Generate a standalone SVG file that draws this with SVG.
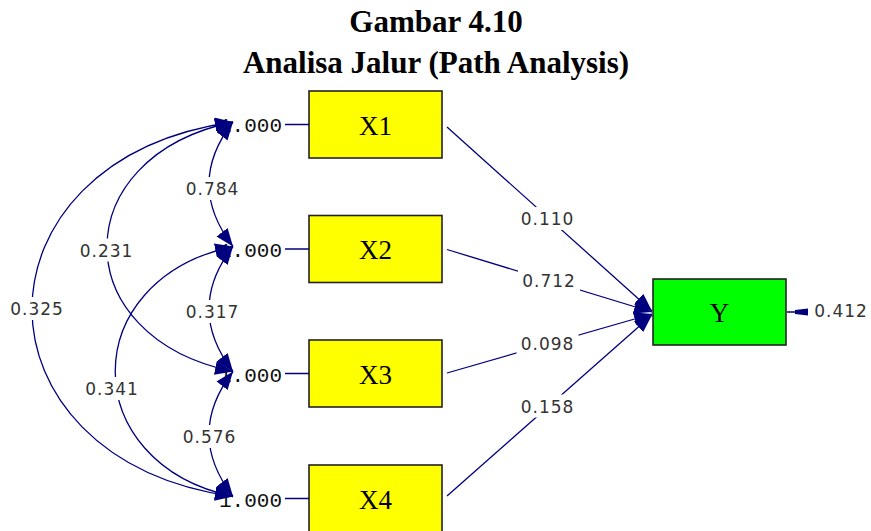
<svg xmlns="http://www.w3.org/2000/svg" width="871" height="531" viewBox="0 0 871 531">
<style>
.title{font-family:"Liberation Serif",serif;font-weight:bold;font-size:31px;fill:#000;text-anchor:middle}
.box{stroke:#222;stroke-width:1.6}
.xbox{fill:#ffff00}
.ybox{fill:#00ff00}
.vname{font-family:"Liberation Serif",serif;font-size:27px;fill:#000;text-anchor:middle}
.var{font-family:"Liberation Mono",monospace;font-size:21px;fill:#111}
.vline{stroke:#00007f;stroke-width:1.5}
.conn{fill:none;stroke:#00007f;stroke-width:1.3}
.num{font-family:"DejaVu Sans",sans-serif;font-size:17px;letter-spacing:1px;fill:#333;text-anchor:middle}
.bg{fill:#fff}
</style>
<defs>
<marker id="ah" markerUnits="userSpaceOnUse" markerWidth="18" markerHeight="14" refX="18" refY="7" orient="auto">
<path d="M0,0 L18,7 L0,14 z" fill="#00007f"/>
</marker>
<marker id="ahs" markerUnits="userSpaceOnUse" markerWidth="18" markerHeight="14" refX="18" refY="7" orient="auto-start-reverse">
<path d="M0,0 L18,7 L0,14 z" fill="#00007f"/>
</marker>
</defs>
<rect width="871" height="531" fill="#fff"/>
<g id="title">
<text class="title" x="436" y="32">Gambar 4.10</text>
<text class="title" x="436" y="73">Analisa Jalur (Path Analysis)</text>
</g>
<g id="X1">
<rect class="box xbox" x="309" y="91" width="133" height="67"/>
<text class="vname" x="375.5" y="134.5">X1</text>
<text class="var" x="219" y="132">1.000</text>
<line class="vline" x1="285" y1="124.5" x2="309" y2="124.5"/>
</g>
<g id="X2">
<rect class="box xbox" x="309" y="215.5" width="133" height="67"/>
<text class="vname" x="375.5" y="259">X2</text>
<text class="var" x="219" y="257">1.000</text>
<line class="vline" x1="285" y1="249" x2="309" y2="249"/>
</g>
<g id="X3">
<rect class="box xbox" x="309" y="340" width="133" height="67"/>
<text class="vname" x="375.5" y="383.5">X3</text>
<text class="var" x="219" y="382">1.000</text>
<line class="vline" x1="285" y1="373.5" x2="309" y2="373.5"/>
</g>
<g id="X4">
<rect class="box xbox" x="309" y="465" width="133" height="67"/>
<text class="vname" x="375.5" y="508.5">X4</text>
<text class="var" x="219" y="507">1.000</text>
<line class="vline" x1="285" y1="498.5" x2="309" y2="498.5"/>
</g>
<g id="Y">
<rect class="box ybox" x="653" y="279" width="133" height="66"/>
<text class="vname" x="719.5" y="321.5">Y</text>
<line class="vline" x1="787" y1="312" x2="797" y2="312"/>
<polygon points="795,310 808,308.5 808,315.5 795,314" fill="#00007f"/>
<text class="num" x="841" y="316.5">0.412</text>
</g>
<g id="connectors">
<path class="conn" marker-start="url(#ahs)" marker-end="url(#ah)" d="M233,122 Q185,184 233,246.5"/>
<path class="conn" marker-start="url(#ahs)" marker-end="url(#ah)" d="M233,246.5 Q185,309 233,371.5"/>
<path class="conn" marker-start="url(#ahs)" marker-end="url(#ah)" d="M233,371.5 Q185,434 233,496.5"/>
<path class="conn" marker-start="url(#ahs)" marker-end="url(#ah)" d="M233,122 C65,157 65,337 233,371.5"/>
<path class="conn" marker-start="url(#ahs)" marker-end="url(#ah)" d="M233,246.5 C76,280 76,463 233,496.5"/>
<path class="conn" marker-start="url(#ahs)" marker-end="url(#ah)" d="M233,122 C-35,160 -35,458 233,496.5"/>
<path class="conn" marker-end="url(#ah)" d="M447,127 L652,311"/>
<path class="conn" marker-end="url(#ah)" d="M447,249.5 L652,312"/>
<path class="conn" marker-end="url(#ah)" d="M447,373 L652,314"/>
<path class="conn" marker-end="url(#ah)" d="M447,496 L652,315"/>
</g>
<g id="labels">
<rect class="bg" x="181.5" y="177" width="62" height="23"/><text class="num" x="212.5" y="195">0.784</text>
<rect class="bg" x="75.5" y="238.5" width="62" height="23"/><text class="num" x="106.5" y="256.5">0.231</text>
<rect class="bg" x="6" y="297" width="62" height="23"/><text class="num" x="37" y="315">0.325</text>
<rect class="bg" x="181.5" y="300" width="62" height="23"/><text class="num" x="212.5" y="318">0.317</text>
<rect class="bg" x="81" y="377" width="62" height="23"/><text class="num" x="112" y="395">0.341</text>
<rect class="bg" x="178.5" y="425" width="62" height="23"/><text class="num" x="209.5" y="443">0.576</text>
<rect class="bg" x="516.5" y="207" width="62" height="23"/><text class="num" x="547.5" y="225">0.110</text>
<rect class="bg" x="518" y="268.5" width="62" height="23"/><text class="num" x="549" y="286.5">0.712</text>
<rect class="bg" x="516.5" y="332" width="62" height="23"/><text class="num" x="547.5" y="350">0.098</text>
<rect class="bg" x="516.5" y="394.5" width="62" height="23"/><text class="num" x="547.5" y="412.5">0.158</text>
</g>
</svg>
